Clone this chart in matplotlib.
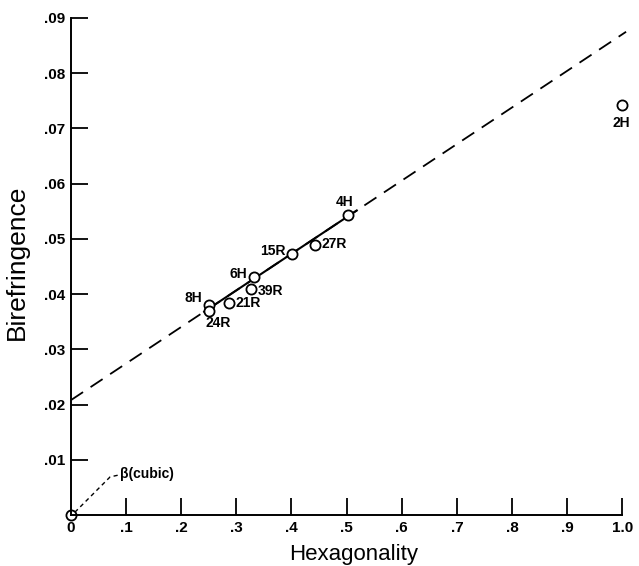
import numpy as np
import matplotlib.pyplot as plt

# polytypes: hexagonality vs birefringence
names = ['2H', '4H', '27R', '15R', '6H', '39R', '21R', '8H', '24R']
hexagonality = [1.0, 0.503, 0.443, 0.401, 0.332, 0.327, 0.287, 0.25, 0.25]
birefringence = [0.0742, 0.0543, 0.0489, 0.0473, 0.0431, 0.0409, 0.0384, 0.0380, 0.0369]

# cubic beta
beta_x, beta_y = 0.0, 0.0

# fitted line
fit_intercept = 0.0208
fit_slope = 0.0662

xticks = [0, .1, .2, .3, .4, .5, .6, .7, .8, .9, 1.0]
xtick_labels = ['0', '.1', '.2', '.3', '.4', '.5', '.6', '.7', '.8', '.9', '1.0']
yticks = [.01, .02, .03, .04, .05, .06, .07, .08, .09]
ytick_labels = ['.01', '.02', '.03', '.04', '.05', '.06', '.07', '.08', '.09']

plt.rcParams['font.family'] = ['Liberation Sans', 'DejaVu Sans']

fig = plt.figure(figsize=(6.39, 5.66), dpi=100)
ax = fig.add_axes([71 / 639, 51 / 566, 565 / 639, 500 / 566])
ax.set_xlim(0, 1.025)
ax.set_ylim(0, 0.0905)

# dashed full line, solid segment through the data
xl = np.array([0.0, 1.007])
ax.plot(xl, fit_intercept + fit_slope * xl, color='black', lw=1.3,
        dashes=(8, 5), clip_on=False, zorder=2)
xs = np.array([0.24, 0.52])
ax.plot(xs, fit_intercept + fit_slope * xs, color='black', lw=1.5,
        solid_capstyle='butt', zorder=3)

ax.plot(hexagonality, birefringence, 'o', ms=7.3, mfc='white', mec='black',
        mew=1.3, clip_on=False, zorder=4)
ax.plot([beta_x], [beta_y], 'o', ms=7.3, mfc='none', mec='black',
        mew=1.3, clip_on=False, zorder=4)

# point labels
lab_style = dict(fontsize=10, fontweight='bold', va='center')
offsets = {
    '2H': (-0.002, -0.0032, 'center'),
    '4H': (-0.006, 0.0023, 'center'),
    '27R': (0.011, 0.0001, 'left'),
    '15R': (-0.012, 0.0004, 'right'),
    '6H': (-0.013, 0.0005, 'right'),
    '39R': (0.012, -0.0004, 'left'),
    '21R': (0.012, -0.0001, 'left'),
    '8H': (-0.013, 0.0012, 'right'),
    '24R': (-0.006, -0.0022, 'left'),
}
for n, x, y in zip(names, hexagonality, birefringence):
    dx, dy, ha = offsets[n]
    ax.text(x + dx, y + dy, n, ha=ha, **lab_style)

# beta(cubic) leader
ax.plot([0.007, 0.071, 0.085], [0.0005, 0.0069, 0.0072], color='black',
        lw=1.0, dashes=(3, 2.5), zorder=3)
ax.text(0.088, 0.0074, 'β(cubic)', fontsize=10, fontweight='bold',
        va='center', ha='left')

for s in ['top', 'right']:
    ax.spines[s].set_visible(False)
ax.spines['bottom'].set_bounds(0, 1.0)
ax.spines['left'].set_bounds(0, 0.09)
ax.spines['bottom'].set_linewidth(1.4)
ax.spines['left'].set_linewidth(1.4)

ax.set_xticks(xticks)
ax.set_xticklabels(xtick_labels)
ax.set_yticks(yticks)
ax.set_yticklabels(ytick_labels)
ax.tick_params(direction='in', length=12, width=1.3, labelsize=11, pad=4)
for t in ax.get_xticklabels() + ax.get_yticklabels():
    t.set_fontweight('bold')
ax.xaxis.get_major_ticks()[0].tick1line.set_visible(False)

ax.set_xlabel('Hexagonality', fontsize=16, labelpad=7)
ax.set_ylabel('Birefringence', fontsize=19)
ax.yaxis.set_label_coords(-0.074, 0.505)

fig.savefig('out.png', dpi=100)
